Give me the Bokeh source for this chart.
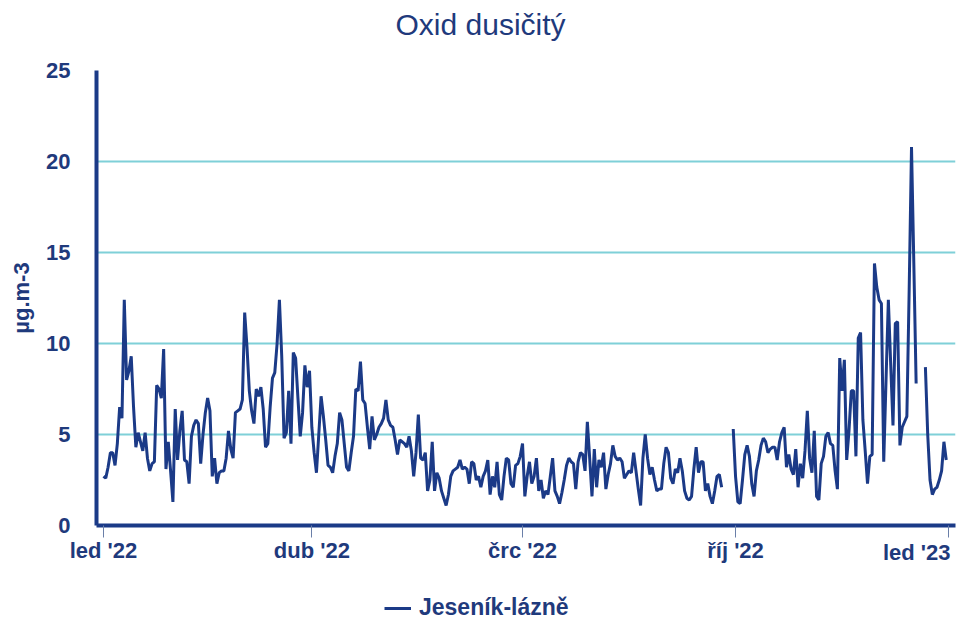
import numpy as np
import pandas as pd
from bokeh.plotting import figure
from bokeh.layouts import column
from bokeh.models import (ColumnDataSource, Range1d, FixedTicker, Legend,
                          LegendItem, Title)
from bokeh.embed import file_html
from bokeh.resources import INLINE

NaN = float("nan")

title_text = "Oxid dusičitý"
y_label = "µg.m-3"
series_name = "Jeseník-lázně"
start_date = "2022-01-01"

# daily values (µg.m-3), one list per month of 2022
jan = [2.7, 2.6, 3.2, 4.0, 4.0, 3.3, 4.5, 6.5, 5.9, 12.4, 8.0, 8.5, 9.3, 6.5, 4.3, 5.1,
       4.6, 4.1, 5.1, 3.7, 3.0, 3.4, 3.5, 7.7, 7.5, 7.0, 9.7, 3.1, 4.6, 3.0, 1.3]
feb = [6.4, 3.6, 5.2, 6.3, 3.6, 3.5, 2.3, 4.9, 5.5, 5.8, 5.6, 3.4, 5.0, 6.2, 7.0, 6.3,
       2.7, 3.7, 2.3, 2.9, 3.0, 3.0, 3.7, 5.2, 4.2, 3.7, 6.2, 6.3]
mar = [6.4, 6.9, 11.7, 9.8, 7.4, 6.3, 5.6, 7.5, 7.1, 7.6, 6.4, 4.3, 4.5, 6.5, 8.1, 8.4,
       10.0, 12.4, 9.3, 4.8, 5.1, 7.4, 4.5, 9.5, 9.2, 7.0, 4.9, 6.2, 8.8, 7.6, 8.5]
apr = [5.4, 4.0, 2.9, 5.0, 7.1, 6.0, 4.7, 3.3, 3.2, 2.9, 3.8, 4.5, 6.2, 5.8, 4.5, 3.2,
       3.0, 4.0, 4.9, 7.5, 7.4, 9.0, 6.9, 6.7, 5.4, 4.2, 6.0, 4.7, 5.0, 5.4]
may = [5.6, 5.9, 6.9, 5.8, 5.5, 5.4, 4.7, 3.9, 4.7, 4.6, 4.5, 4.3, 4.9, 4.1, 2.7, 4.0,
       6.1, 3.7, 3.6, 4.0, 1.9, 2.5, 4.6, 1.9, 2.9, 2.6, 1.9, 1.5, 1.1, 1.7, 2.7]
jun = [3.0, 3.1, 3.2, 3.6, 3.1, 3.2, 3.1, 2.3, 3.5, 3.4, 2.5, 2.7, 2.1, 2.7, 3.0, 3.6,
       1.7, 2.7, 2.1, 3.5, 1.7, 1.4, 2.7, 3.7, 3.6, 2.3, 2.1, 3.3, 3.4, 3.8]
jul = [4.5, 1.6, 2.7, 3.5, 2.3, 2.7, 3.7, 1.9, 2.5, 1.5, 1.9, 1.7, 2.7, 3.7, 1.9, 1.6,
       1.2, 1.8, 2.5, 3.3, 3.7, 3.5, 3.4, 2.0, 3.5, 4.0, 3.9, 3.0, 5.7, 3.7, 1.6]
aug = [4.2, 2.1, 3.6, 3.2, 4.0, 2.0, 2.8, 3.4, 4.4, 3.8, 3.6, 3.7, 3.5, 2.6, 2.8, 3.0,
       2.9, 4.0, 3.0, 2.0, 1.1, 3.7, 5.0, 3.7, 2.8, 3.2, 2.5, 1.9, 2.0, 2.0, 3.4]
sep = [4.3, 4.0, 2.6, 2.3, 3.1, 2.9, 3.7, 3.0, 1.9, 1.5, 1.4, 1.6, 3.1, 4.3, 2.9, 3.5,
       3.5, 1.9, 2.3, 1.6, 1.2, 1.9, 2.7, 2.8, 2.1, NaN, NaN, NaN, NaN, 5.3]
oct_ = [2.7, 1.3, 1.2, 2.5, 3.9, 4.4, 3.8, 2.3, 1.6, 3.0, 3.6, 4.4, 4.8, 4.6, 4.0, 4.2,
        4.3, 4.3, 3.6, 4.6, 5.1, 5.4, 3.2, 3.9, 3.1, 2.8, 4.2, 2.1, 3.4, 2.6, 4.1]
nov = [6.3, 3.7, 2.9, 5.2, 1.6, 1.4, 3.4, 3.8, 4.9, 5.1, 4.5, 4.4, 3.0, 2.0, 9.2, 7.4,
       9.1, 3.6, 5.2, 7.4, 7.4, 3.8, 10.3, 10.6, 5.8, 4.1, 2.3, 3.8, 3.9, 14.4]
dec = [13.1, 12.4, 12.2, 3.5, 8.0, 12.4, 8.9, 5.5, 11.1, 11.2, 4.4, 5.4, 5.7, 6.0, 13.0,
       20.8, 14.4, 7.8, NaN, NaN, NaN, 8.7, 5.0, 2.5, 1.7, 2.0, 2.1, 2.5, 3.0, 4.6, 3.6]

tick_dates = ["2022-01-01", "2022-04-01", "2022-07-01", "2022-10-01", "2023-01-01"]
tick_labels = ["led '22", "dub '22", "črc '22", "říj '22", "led '23"]
y_ticks = [0, 5, 10, 15, 20, 25]

values = jan + feb + mar + apr + may + jun + jul + aug + sep + oct_ + nov + dec
dates = pd.date_range(start_date, periods=len(values), freq="D")
t0 = dates[0]
days = [(d - t0).days for d in dates]
tick_days = [(pd.Timestamp(t) - t0).days for t in tick_dates]

src = ColumnDataSource(dict(x=days, y=values))

NAVY = "#1b3a87"
TEXT = "#1f3a7c"
GRID = "#7fd0d8"
FONT = "Liberation Sans"

# ---- title strip ----
tf = figure(width=957, height=50, output_backend="svg", toolbar_location=None,
            x_range=Range1d(0, 1), y_range=Range1d(0, 1), x_axis_type=None,
            y_axis_type=None, min_border=0)
tf.outline_line_color = None
tf.xgrid.visible = False
tf.ygrid.visible = False
tf.title.text = title_text
tf.title.align = "left"
tf.title.offset = 299
tf.title.standoff = 10
tf.title.text_font = FONT
tf.title.text_font_size = "30px"
tf.title.text_font_style = "normal"
tf.title.text_color = TEXT

# ---- main chart ----
p = figure(width=957, height=540, output_backend="svg", toolbar_location=None,
           x_range=Range1d(-3.0, 368.0), y_range=Range1d(0, 25),
           min_border_left=96, min_border_right=2, min_border_top=20,
           min_border_bottom=65)
p.outline_line_color = None
p.background_fill_color = "white"
p.border_fill_color = "white"

p.xgrid.visible = False
p.ygrid.ticker = FixedTicker(ticks=y_ticks)
p.ygrid.grid_line_color = GRID
p.ygrid.grid_line_width = 2

p.yaxis.ticker = FixedTicker(ticks=y_ticks)
p.yaxis.axis_line_color = NAVY
p.yaxis.axis_line_width = 4
p.yaxis.major_tick_line_color = None
p.yaxis.minor_tick_line_color = None
p.yaxis.major_tick_out = 0
p.yaxis.major_tick_in = 0
p.yaxis.major_label_standoff = 26
p.yaxis.major_label_text_font = FONT
p.yaxis.major_label_text_font_size = "22px"
p.yaxis.major_label_text_font_style = "bold"
p.yaxis.major_label_text_color = TEXT
p.yaxis.axis_label = y_label
p.yaxis.axis_label_text_font = FONT
p.yaxis.axis_label_text_font_size = "22px"
p.yaxis.axis_label_text_font_style = "bold"
p.yaxis.axis_label_text_color = TEXT
p.yaxis.axis_label_standoff = 9

p.xaxis.ticker = FixedTicker(ticks=tick_days)
overrides = {d: lab for d, lab in zip(tick_days, tick_labels)}
overrides[tick_days[-1]] = ""
p.xaxis.major_label_overrides = overrides
p.xaxis.axis_line_color = NAVY
p.xaxis.axis_line_width = 4
p.xaxis.major_tick_out = 12
p.xaxis.major_tick_in = 0
p.xaxis.major_tick_line_color = "#6a7fa8"
p.xaxis.major_tick_line_width = 1
p.xaxis.minor_tick_line_color = None
p.xaxis.major_label_standoff = 0
p.xaxis.major_label_text_font = FONT
p.xaxis.major_label_text_font_size = "22px"
p.xaxis.major_label_text_font_style = "bold"
p.xaxis.major_label_text_color = TEXT

# last tick label, kept inside the canvas (right aligned under its tick)
last_lab = Title(text=tick_labels[-1], align="right", offset=5, vertical_align="top",
                 standoff=-52, text_font=FONT, text_font_size="22px",
                 text_font_style="bold", text_color=TEXT)
p.add_layout(last_lab, "below")

r = p.line("x", "y", source=src, line_color=NAVY, line_width=3)

# ---- legend strip ----
lf = figure(width=957, height=29, output_backend="svg", toolbar_location=None,
            x_range=Range1d(0, 1), y_range=Range1d(-10, -9), x_axis_type=None,
            y_axis_type=None, min_border=0)
lf.outline_line_color = None
lf.xgrid.visible = False
lf.ygrid.visible = False
lr = lf.line("x", "y", source=src, line_color=NAVY, line_width=3)
legend = Legend(items=[LegendItem(label=series_name, renderers=[lr])],
                location=(288, -2), orientation="horizontal", padding=0, margin=0,
                spacing=0, label_standoff=8, glyph_width=27, glyph_height=22,
                label_height=22, label_text_font=FONT, label_text_font_size="23px",
                label_text_font_style="bold", label_text_color=TEXT,
                border_line_color=None, background_fill_alpha=0)
lf.add_layout(legend)

layout = column(tf, p, lf, spacing=0)

open("out.html", "w").write(file_html(layout, INLINE))
